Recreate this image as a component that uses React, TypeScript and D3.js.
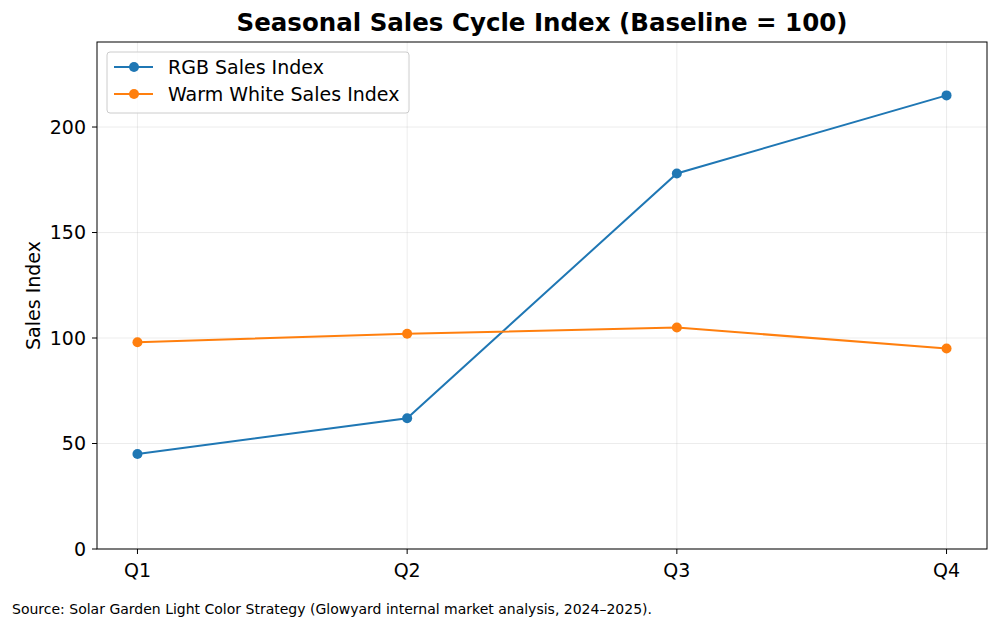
import React from 'react';
import * as d3 from 'd3';

const quarters = ['Q1', 'Q2', 'Q3', 'Q4'];
const rgbValues = [45, 62, 178, 215];
const warmValues = [98, 102, 105, 95];
const yTicks = [0, 50, 100, 150, 200];

const seriesList = [
  { name: 'RGB Sales Index', values: rgbValues, color: '#1f77b4' },
  { name: 'Warm White Sales Index', values: warmValues, color: '#ff7f0e' },
];

const W = 1000;
const H = 629;
const M = { top: 42, right: 13, bottom: 80, left: 97 };
const FONT = '"DejaVu Sans", sans-serif';

export default function App() {
  const innerW = W - M.left - M.right;
  const innerH = H - M.top - M.bottom;

  // matplotlib-like 5% padding on the category axis
  const x = d3.scaleLinear().domain([-0.15, quarters.length - 1 + 0.15]).range([0, innerW]);
  const y = d3.scaleLinear().domain([0, 240.3]).range([innerH, 0]);

  const line = d3.line<number>()
    .x((_, i) => x(i))
    .y(d => y(d));

  return (
    <svg width={W} height={H} style={{ position: 'absolute', left: 0, top: 0, background: '#fff' }} fontFamily={FONT}>
      <text x={M.left + innerW / 2} y={31} textAnchor="middle" fontSize={24.5} fontWeight="bold" fill="#000">
        Seasonal Sales Cycle Index (Baseline = 100)
      </text>

      <g transform={`translate(${M.left},${M.top})`}>
        {/* grid */}
        {yTicks.map(t => (
          <line key={'gy' + t} x1={0} x2={innerW} y1={y(t)} y2={y(t)} stroke="#b0b0b0" strokeOpacity={0.3} strokeWidth={0.8} />
        ))}
        {quarters.map((q, i) => (
          <line key={'gx' + q} x1={x(i)} x2={x(i)} y1={0} y2={innerH} stroke="#b0b0b0" strokeOpacity={0.3} strokeWidth={0.8} />
        ))}

        {/* series */}
        {seriesList.map(s => (
          <g key={s.name}>
            <path d={line(s.values) ?? ''} fill="none" stroke={s.color} strokeWidth={2} />
            {s.values.map((v, i) => (
              <circle key={i} cx={x(i)} cy={y(v)} r={5} fill={s.color} />
            ))}
          </g>
        ))}

        {/* frame */}
        <rect x={0} y={0} width={innerW} height={innerH} fill="none" stroke="#000" strokeWidth={1} />

        {/* y axis */}
        {yTicks.map(t => (
          <g key={'ty' + t} transform={`translate(0,${y(t)})`}>
            <line x1={-5} x2={0} stroke="#000" />
            <text x={-11} dy="0.35em" textAnchor="end" fontSize={19} fill="#000">{t}</text>
          </g>
        ))}

        {/* x axis */}
        {quarters.map((q, i) => (
          <g key={'tx' + q} transform={`translate(${x(i)},${innerH})`}>
            <line y1={0} y2={5} stroke="#000" />
            <text y={28} textAnchor="middle" fontSize={19} fill="#000">{q}</text>
          </g>
        ))}

        <text transform={`translate(${-57},${innerH / 2}) rotate(-90)`} textAnchor="middle" fontSize={19} fill="#000">
          Sales Index
        </text>

        {/* legend */}
        <g transform="translate(10,10)">
          <rect x={0} y={0} width={302} height={61} rx={3} fill="#fff" fillOpacity={0.8} stroke="#cccccc" />
          {seriesList.map((s, i) => (
            <g key={'lg' + s.name} transform={`translate(0,${15 + i * 27})`}>
              <line x1={7} x2={46} y1={0} y2={0} stroke={s.color} strokeWidth={2} />
              <circle cx={27} cy={0} r={5} fill={s.color} />
              <text x={61} dy="0.35em" fontSize={19} fill="#000">{s.name}</text>
            </g>
          ))}
        </g>
      </g>

      <text x={12} y={614} fontSize={14} fill="#000">
        Source: Solar Garden Light Color Strategy (Glowyard internal market analysis, 2024–2025).
      </text>
    </svg>
  );
}
